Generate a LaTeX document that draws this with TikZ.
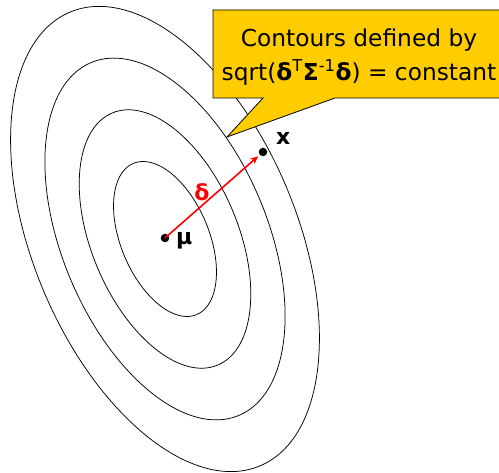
\documentclass[tikz,border=0pt]{standalone}
\usepackage{fontspec}
\setmainfont{DejaVu Sans}
\usetikzlibrary{arrows.meta}
\definecolor{callyellow}{HTML}{FFCC00}
\tikzset{
  contour/.style={draw=black, line width=0.75pt},
  dot/.style={circle, fill=black, inner sep=0pt, minimum size=8.5pt},
  lbl/.style={inner sep=0pt, font=\fontsize{22}{24}\selectfont\bfseries},
  callout/.style={fill=callyellow, draw=black, line width=0.8pt},
}
\begin{document}
\begin{tikzpicture}[x=1pt,y=-1pt]
\useasboundingbox (0,0) rectangle (499,473);
\clip (0,0) rectangle (499,473);
\coordinate (c) at (165,239);
% contours
\foreach \s in {3,5,7,9} {
  \draw[contour, rotate around={-67.3:(c)}] (c) ellipse [x radius={27.33pt*\s}, y radius={14.67pt*\s}];
}
% callout
\coordinate (bl) at (213,98);
\coordinate (tl) at (213,10);
\coordinate (tr) at (510,10);
\coordinate (br) at (510,98);
\coordinate (pa) at (263,98);
\coordinate (pb) at (335,98);
\coordinate (tip) at (227,137);
\draw[callout] (tl) -- (tr) -- (br) -- (pb) -- (tip) -- (pa) -- (bl) -- cycle;
\node[align=center, inner sep=0pt, font=\fontsize{23.3}{34}\selectfont] (txt) at (359,57)
  {Contours defined by\\sqrt({\bfseries δ}\textsuperscript{T}{\bfseries Σ}\textsuperscript{-1}{\bfseries δ}) = constant};
% points
\node[dot] (mu) at (165,238) {};
\node[dot] (xp) at (263,152) {};
\draw[red, line width=1.6pt, -{Stealth[length=8pt,width=7pt]}, shorten >=2pt] (mu.center) -- (xp);
\node[lbl, anchor=west] (mulbl) at (176,241) {μ};
\node[lbl, anchor=west] (xlbl) at (276,138) {x};
\node[lbl, text=red] (dlbl) at (202,192) {δ};
\end{tikzpicture}
\end{document}
